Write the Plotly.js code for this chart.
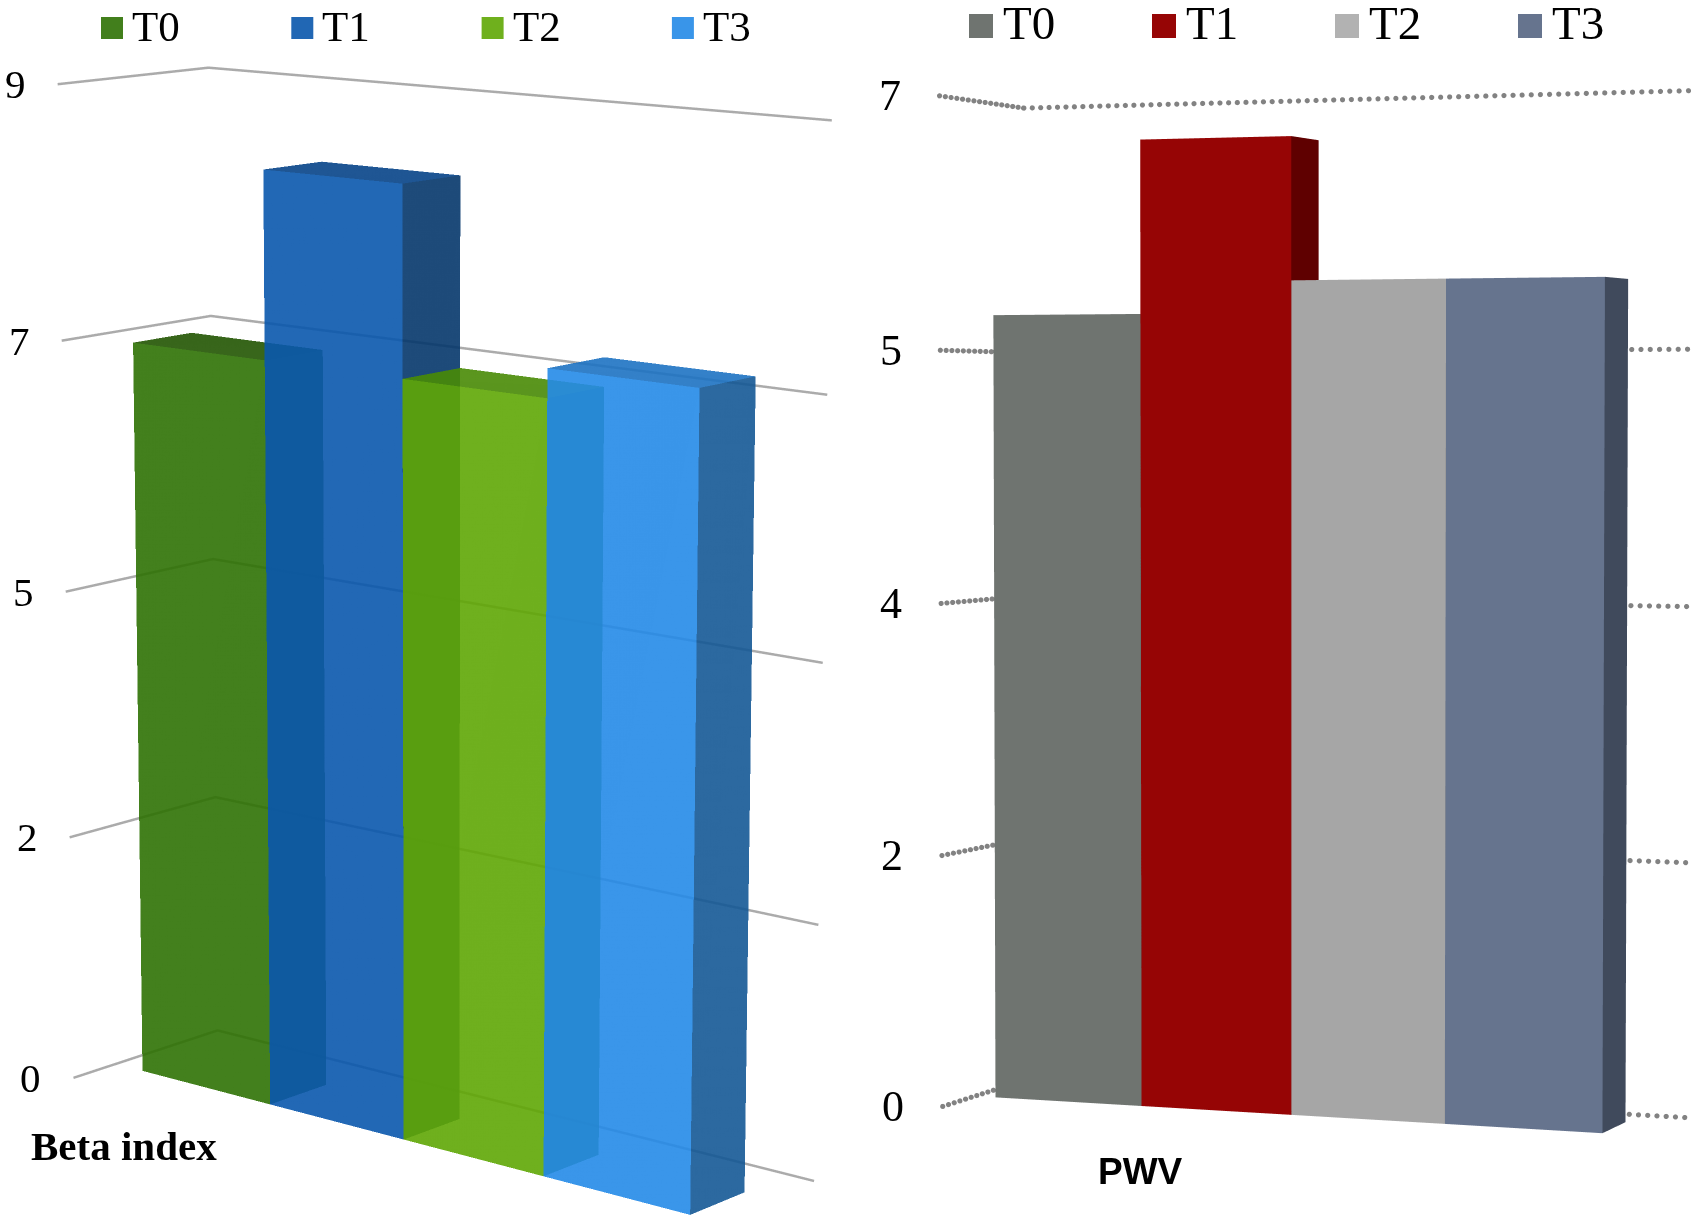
<!DOCTYPE html>
<html>
<head>
<meta charset="utf-8">
<script src="https://cdn.plot.ly/plotly-3.0.1.min.js"></script>
<style>
  html, body { margin: 0; padding: 0; background: #ffffff; }
  #chart { width: 1702px; height: 1223px; }
</style>
</head>
<body>
<div id="chart"></div>
<script>
// Two Excel-style 3D column charts (Beta index, PWV) drawn as mesh3d boxes.

const CATEGORIES = ["T0", "T1", "T2", "T3"];

const BETA_VALUES = [6.7, 8.35, 6.7, 6.95];
const BETA_TICKS = [0, 2.25, 4.5, 6.75, 9];
const BETA_TICK_LABELS = ["0", "2", "5", "7", "9"];

const PWV_VALUES = [5.5, 6.7, 5.72, 5.72];
const PWV_TICKS = [0, 1.75, 3.5, 5.25, 7];
const PWV_TICK_LABELS = ["0", "2", "4", "5", "7"];

const W = 1702;
const H = 1223;
const SERIF = "Liberation Serif, Times New Roman, serif";
const SANS = "Liberation Sans, Arial, sans-serif";
// walls sit exactly on the axis bounds; pad the ranges a hair so the gl
// clipping never eats the gridlines drawn on them
const EDGE = 0.004;

const px = (x) => x / W;
const py = (y) => 1 - y / H;

const FLAT_LIGHT = { ambient: 1, diffuse: 0, specular: 0, roughness: 1, fresnel: 0 };

const BETA = {
  scene: "scene",
  values: BETA_VALUES,
  ticks: BETA_TICKS,
  tickLabels: BETA_TICK_LABELS,
  xRange: [-0.7137, 3.676],
  yRange: [0, 1.275],
  zRange: [0, 9],
  barFront: 0.367,
  barDepth: 0.5,
  opacity: 0.9,
  front: ["#2e7103", "#0957ac", "#5fa704", "#248ae7"],
  top: ["#215501", "#064388", "#488a05", "#1d72c2"],
  side: ["#2a5f10", "#04366b", "#2a6a08", "#145895"],
  legendColors: ["#2e7103", "#0957ac", "#5fa704", "#248ae7"],
  grid: { color: "#ababab", width: 5 },
  domain: { x: [0, 0.512], y: [0, 1] },
  aspect: { x: 0.762, y: 0.216, z: 1 },
  camera: {
    eye: { x: 2.9251, y: -3.4816, z: 0.9711 },
    center: { x: -0.0899, y: 0.1134, z: -0.0163 },
  },
  fovy: 0.2493,
  tickFont: { family: SERIF, size: 41, color: "#000000" },
  tickShift: -30,
  legend: { x0: 101, step: 190.3, size: 22, top: 17, gap: 7, textY: 26.5, fontSize: 43 },
};

const PWV = {
  scene: "scene2",
  values: PWV_VALUES,
  ticks: PWV_TICKS,
  tickLabels: PWV_TICK_LABELS,
  xRange: [-0.645, 3.795],
  yRange: [0, 1.206],
  zRange: [0, 7],
  barFront: 0.45,
  barDepth: 0.45,
  opacity: 1,
  front: ["#6f7470", "#960505", "#a6a6a6", "#66748e"],
  top: ["#8a8f8b", "#a82a2a", "#c2c2c2", "#8390a8"],
  side: ["#4f5350", "#5f0000", "#7a7a7a", "#404a5c"],
  legendColors: ["#6f7470", "#960505", "#b2b2b2", "#66748e"],
  dots: { color: "#828282", size: 3, stepX: 0.059, stepY: 0.08 },
  domain: { x: [0.512, 1], y: [0, 1] },
  aspect: { x: 0.7098, y: 0.2, z: 1 },
  camera: {
    eye: { x: 1.6396, y: -4.252, z: 0.1883 },
    center: { x: -0.0655, y: 0.0987, z: -0.0114 },
  },
  fovy: 0.2612,
  tickFont: { family: SERIF, size: 44, color: "#000000" },
  tickShift: -37,
  legend: { x0: 969, step: 183, size: 24, top: 14, gap: 8, textY: 23.5, fontSize: 47 },
};

// One box per category; only the faces the camera sees (right side, top, front).
function barTraces(panel) {
  return CATEGORIES.map((name, n) => {
    const value = panel.values[n];
    const x0 = n - 0.5;
    const x1 = n + 0.5;
    const y0 = panel.barFront;
    const y1 = panel.barFront + panel.barDepth;
    const side = panel.side[n];
    const top = panel.top[n];
    const front = panel.front[n];
    return {
      type: "mesh3d",
      scene: panel.scene,
      name,
      x: [x0, x1, x1, x0, x0, x1, x1, x0],
      y: [y0, y0, y1, y1, y0, y0, y1, y1],
      z: [0, 0, 0, 0, value, value, value, value],
      i: [1, 1, 4, 4, 0, 0],
      j: [2, 6, 5, 6, 1, 5],
      k: [6, 5, 6, 7, 5, 4],
      facecolor: [side, side, top, top, front, front],
      flatshading: true,
      lighting: FLAT_LIGHT,
      opacity: panel.opacity,
      hovertemplate: name + ": " + value + "<extra></extra>",
      showlegend: false,
    };
  });
}

// Solid value gridlines along the left wall and the back wall.
function gridTrace(panel) {
  const x = [];
  const y = [];
  const z = [];
  for (const t of panel.ticks) {
    x.push(panel.xRange[0], panel.xRange[0], panel.xRange[1], null);
    y.push(panel.yRange[0], panel.yRange[1], panel.yRange[1], null);
    z.push(t, t, t, null);
  }
  return {
    type: "scatter3d",
    mode: "lines",
    scene: panel.scene,
    x,
    y,
    z,
    connectgaps: false,
    line: { color: panel.grid.color, width: panel.grid.width },
    hoverinfo: "skip",
    showlegend: false,
  };
}

// Dotted value gridlines: gl line dashes come out too coarse, so lay the
// dots out along the same two walls instead.
function dottedGridTrace(panel) {
  const { stepX, stepY } = panel.dots;
  const [x0, x1] = panel.xRange;
  const [y0, y1] = panel.yRange;
  const x = [];
  const y = [];
  const z = [];
  for (const t of panel.ticks) {
    for (let s = y0; s < y1; s += stepY) {
      x.push(x0); y.push(s); z.push(t);
    }
    for (let s = x0; s <= x1 + 1e-9; s += stepX) {
      x.push(s); y.push(y1); z.push(t);
    }
  }
  return {
    type: "scatter3d",
    mode: "markers",
    scene: panel.scene,
    x,
    y,
    z,
    marker: { color: panel.dots.color, size: panel.dots.size, symbol: "circle", line: { width: 0 } },
    hoverinfo: "skip",
    showlegend: false,
  };
}

const hiddenAxis = (range) => ({
  range: [range[0] - EDGE, range[1] + EDGE],
  autorange: false,
  showgrid: false,
  zeroline: false,
  showline: false,
  showticklabels: false,
  ticks: "",
  showbackground: false,
  showspikes: false,
  title: { text: "" },
});

function sceneLayout(panel) {
  return {
    domain: panel.domain,
    xaxis: hiddenAxis(panel.xRange),
    yaxis: hiddenAxis(panel.yRange),
    zaxis: hiddenAxis(panel.zRange),
    aspectmode: "manual",
    aspectratio: panel.aspect,
    bgcolor: "rgba(0,0,0,0)",
    camera: {
      eye: panel.camera.eye,
      center: panel.camera.center,
      up: { x: 0, y: 0, z: 1 },
      projection: { type: "perspective" },
    },
    annotations: panel.ticks.map((t, n) => ({
      x: panel.xRange[0],
      y: panel.yRange[0],
      z: t,
      text: panel.tickLabels[n],
      showarrow: false,
      xanchor: "right",
      yanchor: "middle",
      xshift: panel.tickShift,
      font: panel.tickFont,
    })),
  };
}

function legendParts(panel) {
  const lg = panel.legend;
  const shapes = [];
  const annotations = [];
  CATEGORIES.forEach((name, n) => {
    const left = lg.x0 + n * lg.step;
    shapes.push({
      type: "rect",
      xref: "paper",
      yref: "paper",
      x0: px(left),
      x1: px(left + lg.size),
      y0: py(lg.top + lg.size),
      y1: py(lg.top),
      fillcolor: panel.legendColors[n],
      opacity: panel.opacity,
      line: { width: 0 },
    });
    annotations.push({
      xref: "paper",
      yref: "paper",
      x: px(left + lg.size + lg.gap),
      y: py(lg.textY),
      xanchor: "left",
      yanchor: "middle",
      text: name,
      showarrow: false,
      font: { family: SERIF, size: lg.fontSize, color: "#000000" },
    });
  });
  return { shapes, annotations };
}

const betaLegend = legendParts(BETA);
const pwvLegend = legendParts(PWV);

const data = [gridTrace(BETA), ...barTraces(BETA), dottedGridTrace(PWV), ...barTraces(PWV)];

const layout = {
  width: W,
  height: H,
  margin: { l: 0, r: 0, t: 0, b: 0 },
  paper_bgcolor: "#ffffff",
  showlegend: false,
  hovermode: false,
  scene: sceneLayout(BETA),
  scene2: sceneLayout(PWV),
  shapes: [...betaLegend.shapes, ...pwvLegend.shapes],
  annotations: [
    ...betaLegend.annotations,
    ...pwvLegend.annotations,
    {
      xref: "paper", yref: "paper", x: px(123.5), y: py(1145.5),
      xanchor: "center", yanchor: "middle", showarrow: false,
      text: "<b>Beta index</b>",
      font: { family: SERIF, size: 41, color: "#000000" },
    },
    {
      xref: "paper", yref: "paper", x: px(1140), y: py(1171.5),
      xanchor: "center", yanchor: "middle", showarrow: false,
      text: "<b>PWV</b>",
      font: { family: SANS, size: 37, color: "#000000" },
    },
  ],
};

const gd = document.getElementById("chart");

// Excel's 3D charts use a narrow lens; plotly's scene has a fixed 45deg one,
// so narrow it on the underlying gl scene (or pull the eye in if unavailable).
async function narrowLens(panel) {
  const glplot = gd._fullLayout[panel.scene] && gd._fullLayout[panel.scene]._scene
    ? gd._fullLayout[panel.scene]._scene.glplot
    : null;
  if (glplot && typeof glplot.fovy === "number") {
    glplot.fovy = panel.fovy;
    if (typeof glplot.redraw === "function") glplot.redraw();
    return;
  }
  const f = Math.tan(panel.fovy / 2) / Math.tan(Math.PI / 8);
  const { eye, center } = panel.camera;
  await Plotly.relayout(gd, {
    [panel.scene + ".camera.eye"]: {
      x: center.x + (eye.x - center.x) * f,
      y: center.y + (eye.y - center.y) * f,
      z: center.z + (eye.z - center.z) * f,
    },
  });
}

Plotly.newPlot(gd, data, layout, { displayModeBar: false, responsive: false }).then(async () => {
  await narrowLens(BETA);
  await narrowLens(PWV);
});
</script>
</body>
</html>
